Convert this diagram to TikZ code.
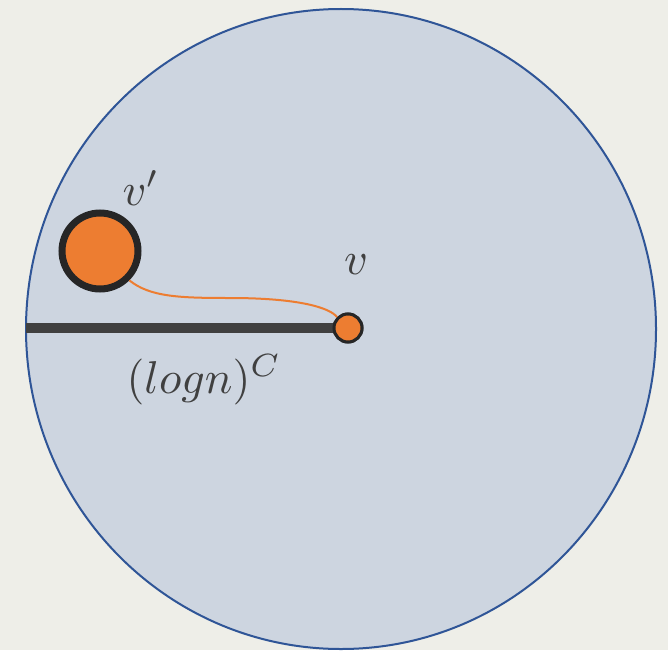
\documentclass[tikz,border=0pt]{standalone}
\usepackage{tikz}
\usetikzlibrary{positioning,calc}
\definecolor{bgc}{RGB}{238,238,232}
\definecolor{dc}{RGB}{205,213,224}
\definecolor{bc}{RGB}{47,85,151}
\definecolor{oc}{RGB}{237,125,49}
\definecolor{kc}{RGB}{38,38,38}
\definecolor{tc}{RGB}{64,64,64}
\tikzset{vert/.style={circle,draw=kc,fill=oc,inner sep=0pt},
 bigv/.style={vert,minimum size=76pt,line width=7pt},
 smallv/.style={vert,minimum size=28pt,line width=3pt},
 bar/.style={draw=tc,line width=10pt},
 path/.style={draw=oc,line width=2pt},
 lbl/.style={text=tc,scale=4.6}}
\begin{document}
\begin{tikzpicture}[x=1pt,y=-1pt]
\useasboundingbox[fill=bgc] (0,0) rectangle (668,650);
\draw[bc,fill=dc,line width=2pt] (341,329) ellipse [x radius=315,y radius=320];
\coordinate (barL) at (26,328);
\node[smallv] (v) at (348,328) {};
\draw[bar] (barL)--(v.west);
\node[smallv] (v) at (348,328) {};
\node[bigv] (vp) at (100,251) {};
\draw[path] (vp.-45) .. controls (150,297) and (180,298) .. (230,298) .. controls (300,298) and (330,308) .. (v.135);
\node[lbl] (lv) at (356,265) {$v$};
\node[lbl] (lvp) at (141,188) {$v'$};
\node[lbl] (lc) at (204,380) {$(log n)^C$};
\end{tikzpicture}
\end{document}
